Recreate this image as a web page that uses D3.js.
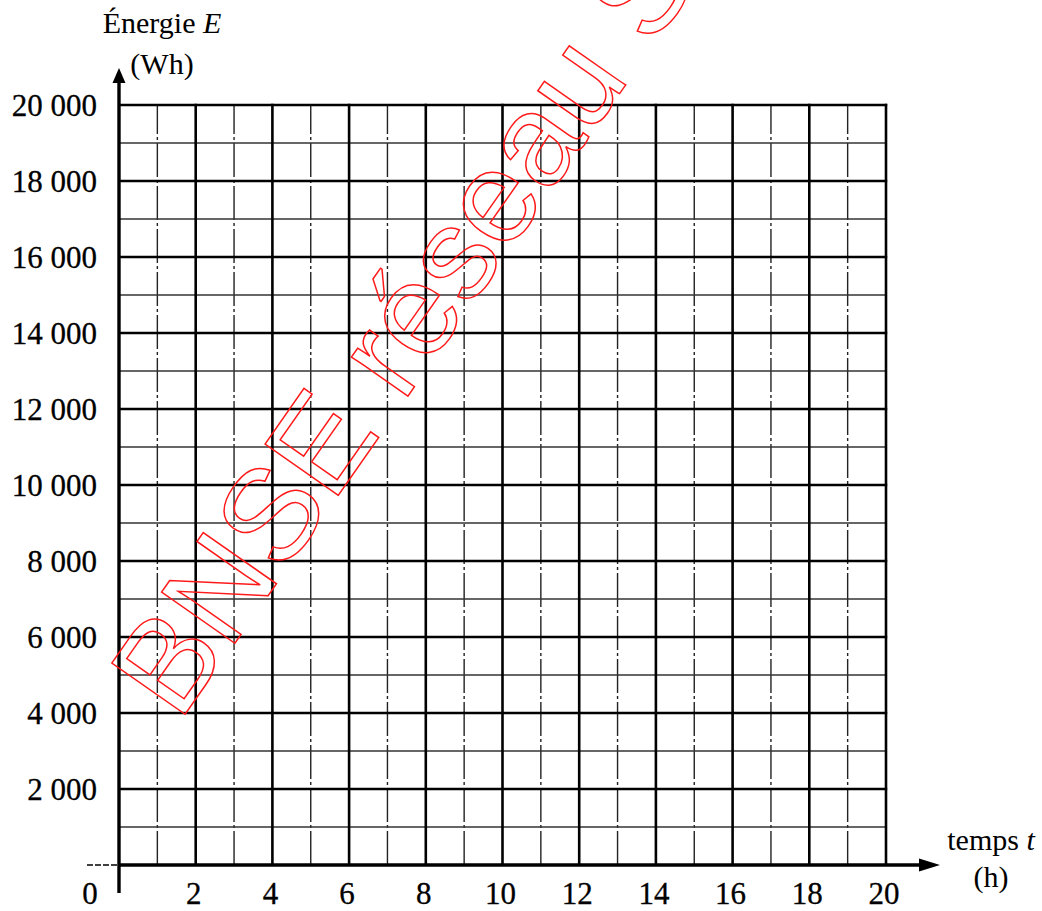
<!DOCTYPE html>
<html>
<head>
<meta charset="utf-8">
<script src="https://cdn.jsdelivr.net/npm/d3@7"></script>
<style>
  html, body { margin: 0; padding: 0; background: #fff; }
  svg { display: block; }
  text { font-family: "Liberation Serif", "Times New Roman", serif; fill: #000; }
</style>
</head>
<body>
<svg id="chart" width="1042" height="911"></svg>
<script>
// ---- data ----
const xMajor = [2, 4, 6, 8, 10, 12, 14, 16, 18, 20];
const xMinor = [1, 3, 5, 7, 9, 11, 13, 15, 17, 19];
const yMajor = [2000, 4000, 6000, 8000, 10000, 12000, 14000, 16000, 18000, 20000];
const yMinor = [1000, 3000, 5000, 7000, 9000, 11000, 13000, 15000, 17000, 19000];
const xTickLabels = ["2", "4", "6", "8", "10", "12", "14", "16", "18", "20"];
const yTickLabels = ["2 000", "4 000", "6 000", "8 000", "10 000", "12 000", "14 000", "16 000", "18 000", "20 000"];
const xDomain = [0, 20];
const yDomain = [0, 20000];
const watermark = "BNSE réseau S";

// ---- layout ----
const svg = d3.select("#chart");
const x = d3.scaleLinear().domain(xDomain).range([119, 886]);
const y = d3.scaleLinear().domain(yDomain).range([865, 105]);

const grid = svg.append("g");

// minor vertical lines
grid.selectAll("line.vmin").data(xMinor).join("line")
  .attr("x1", d => x(d)).attr("x2", d => x(d))
  .attr("y1", y(yDomain[0])).attr("y2", y(yDomain[1]))
  .attr("stroke", "#222").attr("stroke-width", 1.4)
  .attr("stroke-dasharray", "34 3 3 3");

// minor horizontal lines
grid.selectAll("line.hmin").data(yMinor).join("line")
  .attr("x1", x(xDomain[0])).attr("x2", x(xDomain[1]))
  .attr("y1", d => y(d)).attr("y2", d => y(d))
  .attr("stroke", "#333").attr("stroke-width", 1.4);

// major vertical lines
grid.selectAll("line.vmaj").data(xMajor).join("line")
  .attr("x1", d => x(d)).attr("x2", d => x(d))
  .attr("y1", y(yDomain[0])).attr("y2", y(yDomain[1]) - 1.2)
  .attr("stroke", "#000").attr("stroke-width", 2.6);

// major horizontal lines
grid.selectAll("line.hmaj").data(yMajor).join("line")
  .attr("x1", x(xDomain[0])).attr("x2", x(xDomain[1]) + 1.2)
  .attr("y1", d => y(d)).attr("y2", d => y(d))
  .attr("stroke", "#000").attr("stroke-width", 2.6);

// axes
const axes = svg.append("g");
axes.append("line")
  .attr("x1", x(0)).attr("x2", x(0))
  .attr("y1", y(0) + 28).attr("y2", y(20000) - 30)
  .attr("stroke", "#000").attr("stroke-width", 3.4);
axes.append("line")
  .attr("x1", x(0)).attr("x2", 925)
  .attr("y1", y(0)).attr("y2", y(0))
  .attr("stroke", "#000").attr("stroke-width", 3.4);
axes.append("line")
  .attr("x1", 87).attr("x2", x(0))
  .attr("y1", y(0)).attr("y2", y(0))
  .attr("stroke", "#000").attr("stroke-width", 1.6)
  .attr("stroke-dasharray", "6 2");
// arrow heads
const ty = y(20000) - 37;
axes.append("path")
  .attr("d", `M${x(0)},${ty} L${x(0) - 6.5},${ty + 15} L${x(0) + 6.5},${ty + 15} Z`)
  .attr("fill", "#000");
axes.append("path")
  .attr("d", `M940,${y(0)} L919,${y(0) - 6.5} L919,${y(0) + 6.5} Z`)
  .attr("fill", "#000");

// tick labels
const fs = 31;
const fsTitle = 30;
svg.append("g").selectAll("text").data(yMajor).join("text")
  .attr("x", 97).attr("y", d => y(d))
  .attr("dy", "0.34em")
  .attr("text-anchor", "end")
  .attr("font-size", fs)
  .attr("stroke", "#000").attr("stroke-width", 0.3)
  .text((d, i) => yTickLabels[i]);
svg.append("g").selectAll("text").data(xMajor).join("text")
  .attr("x", d => x(d) - 2).attr("y", 904)
  .attr("text-anchor", "middle")
  .attr("font-size", fs)
  .attr("stroke", "#000").attr("stroke-width", 0.3)
  .text((d, i) => xTickLabels[i]);
svg.append("text")
  .attr("x", 90).attr("y", 904)
  .attr("text-anchor", "middle")
  .attr("font-size", fs)
  .attr("stroke", "#000").attr("stroke-width", 0.3)
  .text("0");

// axis titles
const yt = svg.append("text").attr("x", 162).attr("y", 33)
  .attr("text-anchor", "middle").attr("font-size", fsTitle);
yt.append("tspan").text("Énergie ");
yt.append("tspan").attr("font-style", "italic").text("E");
svg.append("text").attr("x", 162).attr("y", 74)
  .attr("text-anchor", "middle").attr("font-size", fsTitle).text("(Wh)");

const xt = svg.append("text").attr("x", 991).attr("y", 850)
  .attr("text-anchor", "middle").attr("font-size", fsTitle);
xt.append("tspan").text("temps ");
xt.append("tspan").attr("font-style", "italic").text("t");
svg.append("text").attr("x", 991).attr("y", 887)
  .attr("text-anchor", "middle").attr("font-size", fsTitle).text("(h)");

// watermark
svg.append("text")
  .attr("transform", "translate(179,723) rotate(-55)")
  .style("font-family", "'Liberation Sans', Arial, sans-serif")
  .attr("font-size", 130)
  .style("fill", "none")
  .attr("stroke", "#ff1a1a")
  .attr("stroke-width", 1.5)
  .text(watermark);
</script>
</body>
</html>
